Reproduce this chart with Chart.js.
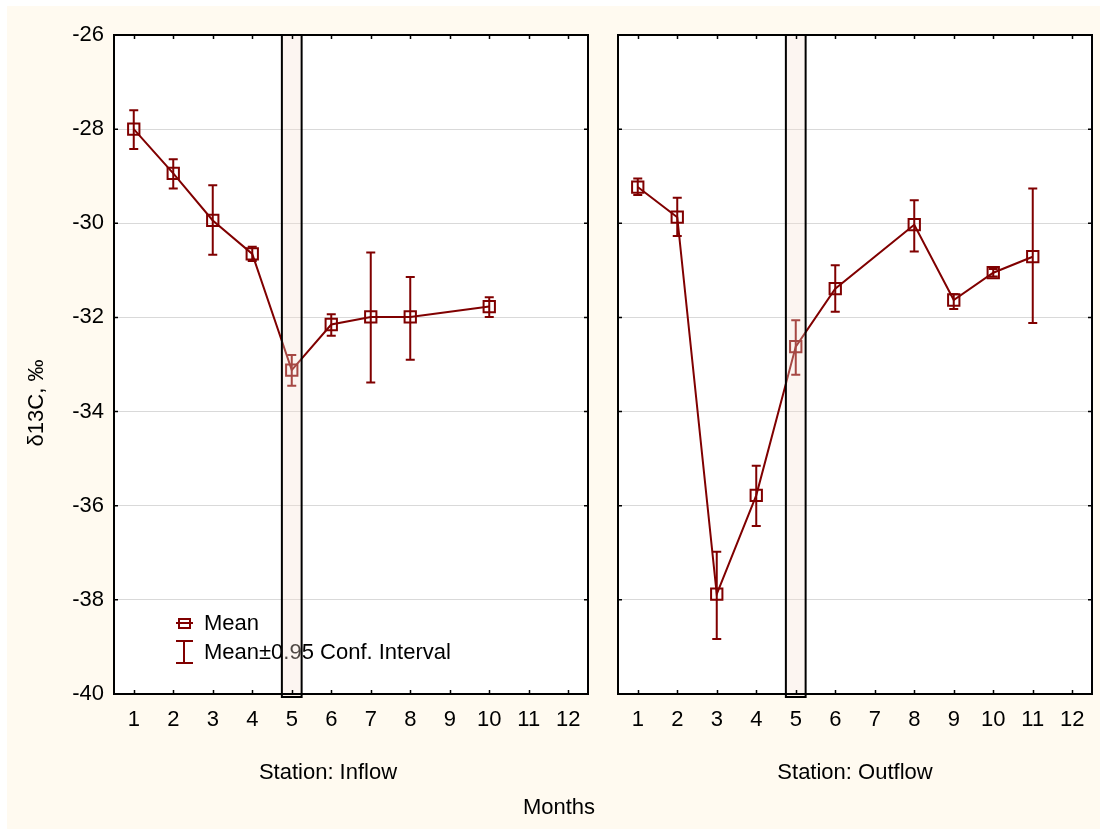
<!DOCTYPE html>
<html>
<head>
<meta charset="utf-8">
<title>δ13C by month, Inflow and Outflow stations</title>
<script src="https://cdn.jsdelivr.net/npm/chart.js@4.4.1/dist/chart.umd.min.js"></script>
<style>
  html, body { margin: 0; padding: 0; background: #ffffff; }
  #frame { position: absolute; left: 7px; top: 6px; width: 1093px; height: 823px; background: #fffaf0; }
  #stage { position: absolute; left: 0; top: 0; width: 1105px; height: 830px; }
  #stage canvas { position: absolute; left: 0; top: 0; }
</style>
</head>
<body>
<div id="frame"></div>
<div id="stage">
  <canvas id="inflow" width="1105" height="830"></canvas>
  <canvas id="outflow" width="1105" height="830"></canvas>
</div>
<script>
// Month axis ticks shared by both panels
const monthTicks = [1, 2, 3, 4, 5, 6, 7, 8, 9, 10, 11, 12];
const highlightMonth = 5;

// Station: Inflow — mean δ13C and 95% confidence limits
const inflowMonths = [1, 2, 3, 4, 5, 6, 7, 8, 10];
const inflowMean   = [-28.00, -28.94, -29.94, -30.65, -33.12, -32.15, -31.99, -31.99, -31.77];
const inflowUpper  = [-27.60, -28.64, -29.19, -30.50, -32.80, -31.93, -30.62, -31.14, -31.57];
const inflowLower  = [-28.42, -29.26, -30.67, -30.80, -33.45, -32.39, -33.38, -32.90, -31.99];

// Station: Outflow — mean δ13C and 95% confidence limits
const outflowMonths = [1, 2, 3, 4, 5, 6, 8, 9, 10, 11];
const outflowMean   = [-29.23, -29.87, -37.88, -35.78, -32.62, -31.39, -30.03, -31.63, -31.05, -30.71];
const outflowUpper  = [-29.05, -29.46, -36.98, -35.15, -32.06, -30.89, -29.51, -31.51, -30.97, -29.26];
const outflowLower  = [-29.40, -30.27, -38.83, -36.43, -33.22, -31.88, -30.60, -31.82, -31.13, -32.12];

const MAROON = '#800000';
const FONT = '22px "Liberation Sans", Arial, Helvetica, sans-serif';
const FONT_FAMILY = '"Liberation Sans", Arial, Helvetica, sans-serif';

// Draws the white plot background, error bars, month-5 band, frame, inward ticks and texts
function panelPlugin(cfg) {
  return {
    id: 'panelDecor_' + cfg.name,
    beforeDraw(chart) {
      const a = chart.chartArea, ctx = chart.ctx;
      ctx.save();
      ctx.fillStyle = '#ffffff';
      ctx.fillRect(a.left, a.top, a.right - a.left, a.bottom - a.top);
      ctx.restore();
    },
    beforeDatasetsDraw(chart) {
      const ctx = chart.ctx, xs = chart.scales.x, ys = chart.scales.y;
      const cap = 4.5;
      ctx.save();
      ctx.strokeStyle = MAROON;
      ctx.lineWidth = 2;
      cfg.months.forEach((m, i) => {
        const x = xs.getPixelForValue(m);
        const yU = ys.getPixelForValue(cfg.upper[i]);
        const yL = ys.getPixelForValue(cfg.lower[i]);
        ctx.beginPath();
        ctx.moveTo(x, yU); ctx.lineTo(x, yL);
        ctx.moveTo(x - cap, yU); ctx.lineTo(x + cap, yU);
        ctx.moveTo(x - cap, yL); ctx.lineTo(x + cap, yL);
        ctx.stroke();
      });
      ctx.restore();
    },
    afterDatasetsDraw(chart) {
      const ctx = chart.ctx, a = chart.chartArea, xs = chart.scales.x, ys = chart.scales.y;
      ctx.save();

      // legend inside the plot
      if (cfg.legend) {
        const lx = a.left + 70, ly1 = a.bottom - 71, ly2 = a.bottom - 42;
        ctx.strokeStyle = MAROON;
        ctx.lineWidth = 2;
        ctx.beginPath();
        ctx.moveTo(lx - 8, ly1); ctx.lineTo(lx + 9, ly1);
        ctx.stroke();
        ctx.strokeRect(lx - 5, ly1 - 4, 11, 9);
        ctx.beginPath();
        ctx.moveTo(lx, ly2 - 11); ctx.lineTo(lx, ly2 + 11);
        ctx.moveTo(lx - 8, ly2 - 11); ctx.lineTo(lx + 9, ly2 - 11);
        ctx.moveTo(lx - 8, ly2 + 11); ctx.lineTo(lx + 9, ly2 + 11);
        ctx.stroke();
        ctx.fillStyle = '#000';
        ctx.font = FONT;
        ctx.textAlign = 'left';
        ctx.textBaseline = 'middle';
        ctx.fillText('Mean', lx + 20, ly1 + 1);
        ctx.fillText('Mean\u00b10.95 Conf. Interval', lx + 20, ly2 + 1);
      }

      // translucent band over the highlighted month
      const bx0 = xs.getPixelForValue(highlightMonth - 0.25);
      const bx1 = xs.getPixelForValue(highlightMonth + 0.25);
      ctx.fillStyle = 'rgba(245, 225, 210, 0.32)';
      ctx.fillRect(bx0, a.top, bx1 - bx0, a.bottom - a.top + 3);

      // plot frame
      ctx.strokeStyle = '#000';
      ctx.lineWidth = 2;
      ctx.strokeRect(a.left, a.top, a.right - a.left, a.bottom - a.top);

      // inward tick marks
      ctx.lineWidth = 1.5;
      ctx.beginPath();
      monthTicks.forEach(m => {
        const x = Math.round(xs.getPixelForValue(m)) + 0.5;
        ctx.moveTo(x, a.bottom); ctx.lineTo(x, a.bottom - 4);
        ctx.moveTo(x, a.top); ctx.lineTo(x, a.top + 4);
      });
      ys.ticks.forEach(t => {
        const y = ys.getPixelForValue(t.value);
        ctx.moveTo(a.left, y); ctx.lineTo(a.left + 4, y);
        ctx.moveTo(a.right, y); ctx.lineTo(a.right - 4, y);
      });
      ctx.stroke();

      // band outline
      ctx.lineWidth = 2;
      ctx.strokeRect(bx0, a.top, bx1 - bx0, a.bottom - a.top + 3);

      // station label under the month ticks
      ctx.fillStyle = '#000';
      ctx.font = FONT;
      ctx.textAlign = 'center';
      ctx.textBaseline = 'middle';
      ctx.fillText(cfg.station, cfg.stationX, 773);

      if (cfg.axisTitles) {
        ctx.fillText('Months', 559, 808);
        ctx.save();
        ctx.translate(37, 403);
        ctx.rotate(-Math.PI / 2);
        ctx.fillText('\u03b413C, \u2030', 0, 0);
        ctx.restore();
      }
      ctx.restore();
    }
  };
}

function panelConfig(cfg) {
  return {
    type: 'line',
    data: {
      datasets: [{
        label: 'Mean',
        data: cfg.months.map((m, i) => ({ x: m, y: cfg.mean[i] })),
        borderColor: MAROON,
        borderWidth: 2,
        tension: 0,
        fill: false,
        pointStyle: 'rect',
        pointRadius: 8,
        pointHoverRadius: 8,
        pointBorderWidth: 2,
        pointBorderColor: MAROON,
        pointBackgroundColor: 'rgba(0,0,0,0)'
      }]
    },
    options: {
      responsive: false,
      devicePixelRatio: 1,
      animation: false,
      events: [],
      layout: { padding: { left: cfg.padLeft, right: cfg.padRight, top: 35, bottom: 96 } },
      plugins: { legend: { display: false }, tooltip: { enabled: false } },
      scales: {
        x: {
          type: 'linear',
          min: 0.5,
          max: 12.5,
          afterBuildTicks: s => { s.ticks = monthTicks.map(v => ({ value: v })); },
          afterFit: s => { s.height = 40; },
          ticks: {
            color: '#000',
            font: { family: FONT_FAMILY, size: 22 },
            padding: 13,
            autoSkip: false,
            maxRotation: 0,
            callback: v => String(v)
          },
          grid: { display: false, drawTicks: false },
          border: { display: false }
        },
        y: {
          min: -40,
          max: -26,
          afterFit: s => { s.width = cfg.yWidth; },
          ticks: {
            display: cfg.yLabels,
            stepSize: 2,
            color: '#000',
            font: { family: FONT_FAMILY, size: 22 },
            padding: 10
          },
          grid: { color: '#d9d9d9', lineWidth: 1, drawTicks: false },
          border: { display: false }
        }
      }
    },
    plugins: [panelPlugin(cfg)]
  };
}

new Chart(document.getElementById('inflow'), panelConfig({
  name: 'inflow',
  months: inflowMonths, mean: inflowMean, upper: inflowUpper, lower: inflowLower,
  padLeft: 0, padRight: 1105 - 588, yWidth: 114, yLabels: true,
  legend: true, axisTitles: true,
  station: 'Station: Inflow', stationX: 328
}));

new Chart(document.getElementById('outflow'), panelConfig({
  name: 'outflow',
  months: outflowMonths, mean: outflowMean, upper: outflowUpper, lower: outflowLower,
  padLeft: 618, padRight: 1105 - 1092, yWidth: 0, yLabels: false,
  legend: false, axisTitles: false,
  station: 'Station: Outflow', stationX: 855
}));
</script>
</body>
</html>
